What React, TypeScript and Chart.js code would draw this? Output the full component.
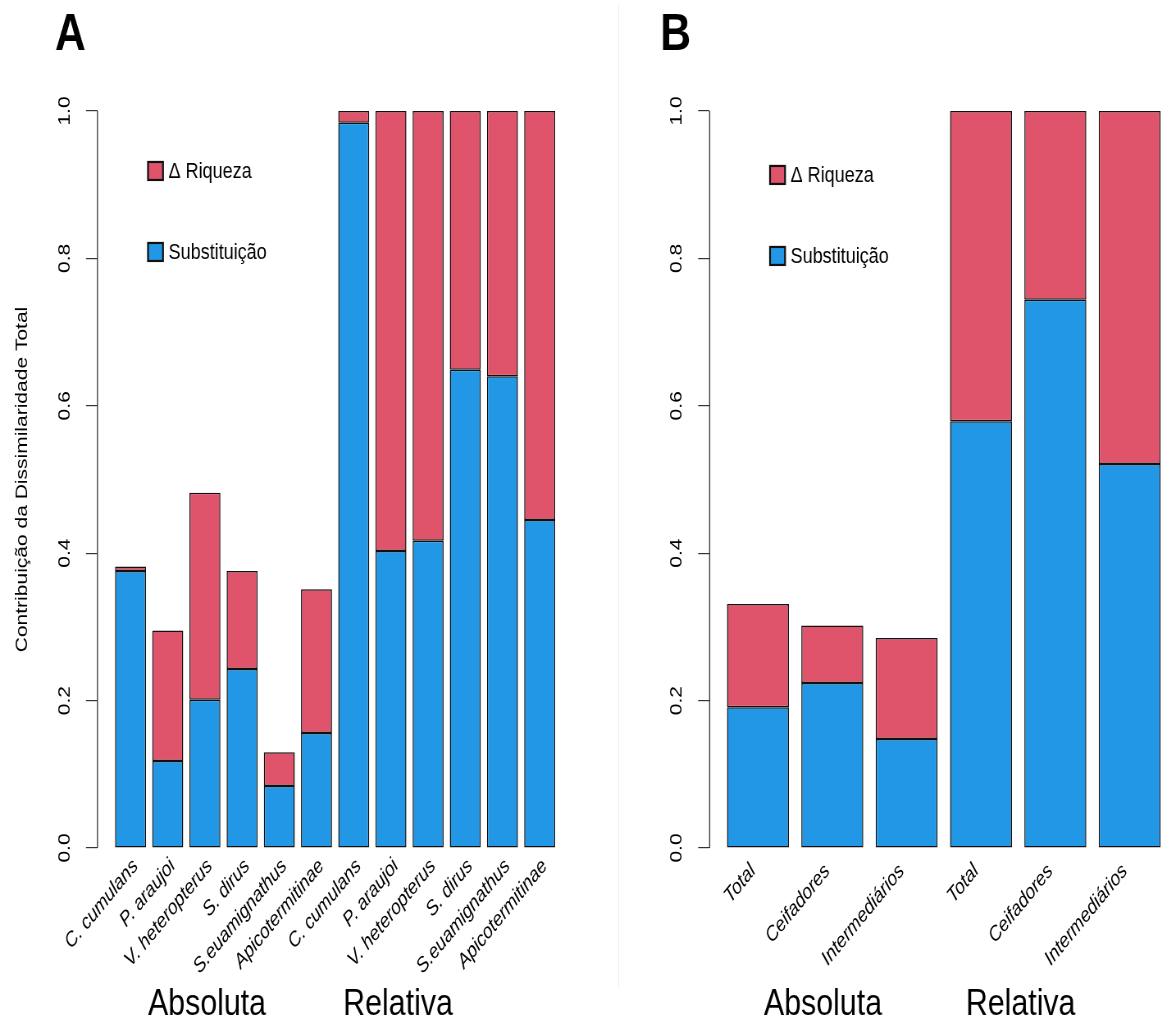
import React, { useEffect, useRef } from 'react';
import { Chart, registerables } from 'chart.js';

Chart.register(...registerables);
Chart.defaults.font.family = '"Liberation Sans", Arial, Helvetica, sans-serif';

// ---------- data ----------
const speciesLabels = [
  'C. cumulans', 'P. araujoi', 'V. heteropterus', 'S. dirus', 'S.euamignathus', 'Apicotermitinae',
  'C. cumulans', 'P. araujoi', 'V. heteropterus', 'S. dirus', 'S.euamignathus', 'Apicotermitinae',
];
const substituicaoA = [0.376, 0.118, 0.201, 0.243, 0.084, 0.156, 0.984, 0.403, 0.417, 0.649, 0.640, 0.445];
const riquezaA = [0.006, 0.177, 0.281, 0.133, 0.046, 0.195, 0.016, 0.597, 0.583, 0.351, 0.360, 0.555];

const guildLabels = ['Total', 'Ceifadores', 'Intermediários', 'Total', 'Ceifadores', 'Intermediários'];
const substituicaoB = [0.191, 0.224, 0.148, 0.579, 0.744, 0.521];
const riquezaB = [0.140, 0.078, 0.137, 0.421, 0.256, 0.479];

const yTickValues = [0, 0.2, 0.4, 0.6, 0.8, 1.0];
const groupNames = ['Absoluta', 'Relativa'];
const seriesNames = ['Δ Riqueza', 'Substituição'];
const yTitle = 'Contribuição da Dissimilaridade Total';

const RED = '#DF536B';
const BLUE = '#2297E6';
const FONT = '"Liberation Sans", Arial, Helvetica, sans-serif';

const SQUEEZE = 0.82;
const CW = 732;
const CH = 1022;

type PanelCfg = {
  letter: string;
  letterX: number;
  labels: string[];
  subst: number[];
  riq: number[];
  xMin: number;
  xMax: number;
  yAxisWidth: number;
  padRight: number;
  legendX: number;
  legendY: number[];
  groupX: number[];
  showTitle: boolean;
  labelOffset: number;
  labelPad: number;
};

const panelA: PanelCfg = {
  letter: 'A', letterX: 67, labels: speciesLabels, subst: substituicaoA, riq: riquezaA,
  xMin: -0.368, xMax: 14.968, yAxisWidth: 118.8, padRight: 33.5,
  legendX: 1.264, legendY: [0.9186, 0.8087], groupX: [3.166, 9.33], showTitle: true,
  labelOffset: 6, labelPad: -2,
};
const panelB: PanelCfg = {
  letter: 'B', letterX: 49, labels: guildLabels, subst: substituicaoB, riq: riquezaB,
  xMin: -0.08, xMax: 7.48, yAxisWidth: 109.3, padRight: 51.5,
  legendX: 0.895, legendY: [0.9132, 0.8033], groupX: [1.749, 4.94], showTitle: false,
  labelOffset: -6, labelPad: 3,
};

function Panel({ cfg, left }: { cfg: PanelCfg; left: number }) {
  const ref = useRef<HTMLCanvasElement | null>(null);
  useEffect(() => {
    if (!ref.current) return;
    const centers = cfg.labels.map((_, i) => 0.7 + 1.2 * i);
    const decor = {
      id: 'decor',
      afterDraw(chart: any) {
        const ctx = chart.ctx as CanvasRenderingContext2D;
        const ys = chart.scales.y;
        const xs = chart.scales.x;
        const axX = chart.chartArea.left;
        ctx.save();
        // y axis line (0 .. 1 only)
        ctx.strokeStyle = '#333';
        ctx.lineWidth = 1.3;
        ctx.beginPath();
        ctx.moveTo(axX, ys.getPixelForValue(0));
        ctx.lineTo(axX, ys.getPixelForValue(1));
        ctx.stroke();
        // y tick labels (rotated)
        ctx.fillStyle = '#000';
        ctx.font = `21px ${FONT}`;
        ctx.textAlign = 'center';
        ctx.textBaseline = 'middle';
        yTickValues.forEach((v) => {
          ctx.save();
          ctx.translate(axX - 40, ys.getPixelForValue(v));
          ctx.rotate(-Math.PI / 2);
          ctx.fillText(v.toFixed(1), 0, 0);
          ctx.restore();
        });
        // y title
        if (cfg.showTitle) {
          ctx.save();
          ctx.font = `21px ${FONT}`;
          ctx.translate(27, (ys.getPixelForValue(0) + ys.getPixelForValue(1)) / 2);
          ctx.rotate(-Math.PI / 2);
          ctx.fillText(yTitle, 0, 0);
          ctx.restore();
        }
        // legend
        const legendColors = [RED, BLUE];
        ctx.font = `22px ${FONT}`;
        ctx.textAlign = 'left';
        seriesNames.forEach((name, i) => {
          const bx = xs.getPixelForValue(cfg.legendX);
          const by = ys.getPixelForValue(cfg.legendY[i]);
          ctx.fillStyle = legendColors[i];
          ctx.fillRect(bx, by - 9, 18.3, 18);
          ctx.strokeStyle = '#111';
          ctx.lineWidth = 2.2;
          ctx.strokeRect(bx, by - 9, 18.3, 18);
          ctx.fillStyle = '#000';
          ctx.fillText(name, bx + 25, by + 1);
        });
        // group labels
        ctx.font = `37px ${FONT}`;
        ctx.textAlign = 'center';
        ctx.textBaseline = 'alphabetic';
        groupNames.forEach((g, i) => {
          ctx.fillText(g, xs.getPixelForValue(cfg.groupX[i]), chart.height - 7);
        });
        // panel letter
        ctx.font = `bold 52px ${FONT}`;
        ctx.textAlign = 'left';
        ctx.fillText(cfg.letter, cfg.letterX, 50);
        ctx.restore();
      },
    };
    const chart = new Chart(ref.current, {
      type: 'bar',
      data: {
        datasets: [
          {
            label: seriesNames[1],
            data: cfg.subst.map((v, i) => ({ x: centers[i], y: v })),
            backgroundColor: BLUE,
            borderColor: '#111',
            borderWidth: 1.5,
            borderSkipped: false,
            categoryPercentage: 1,
            barPercentage: 1 / 1.2,
          },
          {
            label: seriesNames[0],
            data: cfg.riq.map((v, i) => ({ x: centers[i], y: v })),
            backgroundColor: RED,
            borderColor: '#111',
            borderWidth: 1.5,
            borderSkipped: false,
            categoryPercentage: 1,
            barPercentage: 1 / 1.2,
          },
        ],
      },
      options: {
        responsive: false,
        animation: false,
        events: [],
        layout: { padding: { top: 81.5, right: cfg.padRight, bottom: 0, left: 0 } },
        plugins: { legend: { display: false }, tooltip: { enabled: false } },
        scales: {
          x: {
            type: 'linear',
            stacked: true,
            offset: false,
            min: cfg.xMin,
            max: cfg.xMax,
            grid: { display: false, offset: false },
            border: { display: false },
            afterBuildTicks: (scale: any) => {
              scale.ticks = centers.map((v) => ({ value: v }));
            },
            afterFit: (scale: any) => {
              scale.height = 174;
            },
            ticks: {
              autoSkip: false,
              minRotation: 45,
              maxRotation: 45,
              padding: cfg.labelPad,
              labelOffset: cfg.labelOffset,
              color: '#000',
              font: { size: 21, style: 'italic' },
              callback: (_v: any, idx: number) => cfg.labels[idx],
            },
          },
          y: {
            type: 'linear',
            stacked: true,
            min: 0,
            max: 1.04,
            border: { display: false },
            grid: { drawOnChartArea: false, drawTicks: true, tickLength: 14, color: '#333', lineWidth: 1.2 },
            afterBuildTicks: (scale: any) => {
              scale.ticks = yTickValues.map((v) => ({ value: v }));
            },
            afterFit: (scale: any) => {
              scale.width = cfg.yAxisWidth;
            },
            ticks: { display: false },
          },
        },
      },
      plugins: [decor],
    });
    return () => chart.destroy();
  }, [cfg]);
  return (
    <div
      style={{
        position: 'absolute',
        left,
        top: 0,
        width: CW,
        height: CH,
        transform: `scaleX(${SQUEEZE})`,
        transformOrigin: '0 0',
      }}
    >
      <canvas ref={ref} width={CW} height={CH} style={{ display: 'block' }} />
    </div>
  );
}

export default function App() {
  return (
    <div
      style={{
        position: 'fixed',
        left: 0,
        top: 0,
        width: 1161,
        height: 1022,
        overflow: 'hidden',
        background: '#fff',
      }}
    >
      <div style={{ position: 'absolute', left: 618, top: 5, width: 1, height: 982, background: '#f2f2f2' }} />
      <Panel cfg={panelA} left={0} />
      <Panel cfg={panelB} left={620} />
    </div>
  );
}
